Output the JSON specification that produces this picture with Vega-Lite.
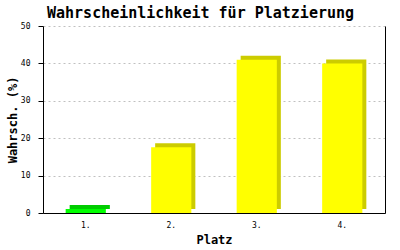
{
  "$schema": "https://vega.github.io/schema/vega-lite/v6.json",
  "width": 342,
  "height": 187,
  "autosize": {"type": "none"},
  "padding": {"left": 43, "top": 26, "right": 15, "bottom": 37},
  "background": "white",
  "title": {
    "text": "Wahrscheinlichkeit für Platzierung",
    "font": "DejaVu Sans Mono",
    "fontSize": 15,
    "fontWeight": "bold",
    "color": "black",
    "anchor": "start",
    "frame": "group",
    "offset": 1,
    "dx": 4
  },
  "data": {
    "values": [
      {"platz": "1.", "wahrsch": 1.1},
      {"platz": "2.", "wahrsch": 17.6},
      {"platz": "3.", "wahrsch": 41.0},
      {"platz": "4.", "wahrsch": 40.0}
    ]
  },
  "config": {
    "view": {"stroke": null},
    "axis": {
      "labelFont": "DejaVu Sans Mono",
      "labelFontSize": 8,
      "labelColor": "black",
      "titleFont": "DejaVu Sans Mono",
      "titleFontSize": 12,
      "titleFontWeight": "bold",
      "titleColor": "black",
      "domainColor": "black",
      "domainWidth": 1,
      "tickColor": "black"
    }
  },
  "encoding": {
    "x": {
      "field": "platz",
      "type": "ordinal",
      "scale": {"paddingInner": 0.53, "paddingOuter": 0.265},
      "axis": {
        "title": "Platz",
        "labelAngle": 0,
        "ticks": false,
        "labelPadding": 8,
        "titlePadding": 5
      }
    },
    "y": {
      "field": "wahrsch",
      "type": "quantitative",
      "scale": {"domain": [0, 50], "nice": false}
    },
    "color": {
      "field": "platz",
      "type": "nominal",
      "legend": null
    }
  },
  "layer": [
    {
      "mark": {"type": "bar", "xOffset": 4, "yOffset": -4},
      "encoding": {
        "y": {
          "field": "wahrsch",
          "type": "quantitative",
          "axis": {
            "orient": "right",
            "labels": false,
            "ticks": false,
            "grid": false,
            "title": null,
            "domainColor": "black"
          }
        },
        "color": {
          "field": "platz",
          "type": "nominal",
          "legend": null,
          "scale": {"domain": ["1.", "2.", "3.", "4."], "range": ["#00cc00", "#cccc00", "#cccc00", "#cccc00"]}
        }
      }
    },
    {
      "mark": {"type": "bar"},
      "encoding": {
        "y": {
          "field": "wahrsch",
          "type": "quantitative",
          "axis": {
            "title": "Wahrsch. (%)",
            "values": [0, 10, 20, 30, 40, 50],
            "tickSize": 5,
            "labelPadding": 8,
            "titlePadding": 1,
            "grid": true,
            "gridColor": "#c0c0c0",
            "gridDash": [2, 3],
            "gridWidth": 1
          }
        },
        "color": {
          "field": "platz",
          "type": "nominal",
          "legend": null,
          "scale": {"domain": ["1.", "2.", "3.", "4."], "range": ["#00ff00", "#ffff00", "#ffff00", "#ffff00"]}
        }
      }
    }
  ],
  "resolve": {"scale": {"color": "independent"}, "axis": {"y": "independent"}}
}
